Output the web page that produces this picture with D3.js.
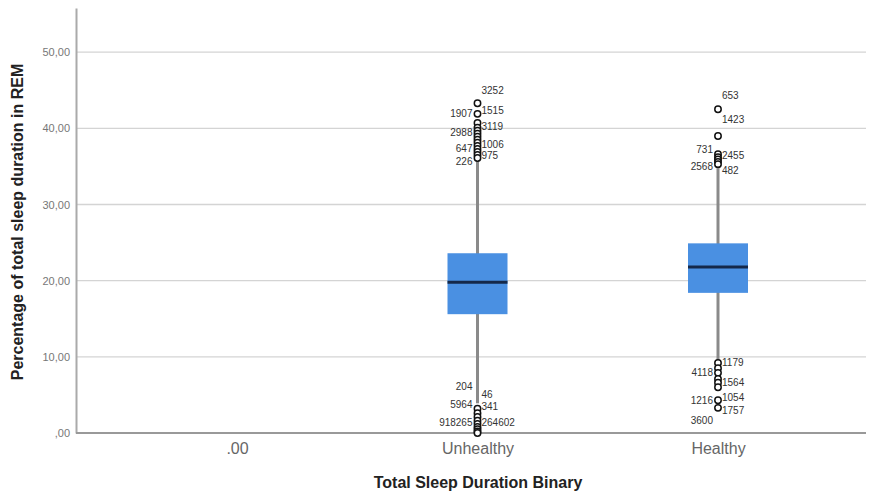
<!DOCTYPE html>
<html>
<head>
<meta charset="utf-8">
<script src="https://cdn.jsdelivr.net/npm/d3@7"></script>
<style>
  body { margin: 0; background: #fff; }
  svg { display: block; font-family: "Liberation Sans", Arial, sans-serif; }
</style>
</head>
<body>
<div id="svg-container"></div>
<script>
// data
const categories = [".00", "Unhealthy", "Healthy"];
const q1 = [null, 15.6, 18.4];
const median = [null, 19.8, 21.8];
const q3 = [null, 23.6, 24.9];
const whiskerLow = [null, 3.9, 9.6];
const whiskerHigh = [null, 35.8, 35.0];

const unhealthyOutliers = [43.3, 41.9, 40.7, 40.1, 39.7, 39.3, 38.9, 38.5, 38.1, 37.7, 37.3, 36.9, 36.5, 36.1,
  3.2, 2.6, 2.1, 1.6, 1.2, 0.8, 0.5, 0.2, 0.0];
const healthyOutliers = [42.5, 39.0, 36.6, 36.2, 35.9, 35.6, 35.3,
  9.2, 8.5, 7.9, 7.1, 6.6, 6.0, 4.3, 3.3];

// case labels: text, value where the label sits, side of the whisker
const unhealthyLabels = [
  ["3252", 45.0, "r"], ["1907", 41.9, "l"], ["1515", 42.4, "r"], ["3119", 40.3, "r"],
  ["2988", 39.5, "l"], ["1006", 37.9, "r"], ["647", 37.4, "l"], ["975", 36.4, "r"],
  ["226", 35.6, "l"], ["204", 6.1, "l"], ["46", 5.0, "r"], ["5964", 3.7, "l"],
  ["341", 3.5, "r"], ["918265", 1.4, "l"], ["264602", 1.4, "r"]
];
const healthyLabels = [
  ["653", 44.3, "r"], ["1423", 41.2, "r"], ["731", 37.2, "l"], ["2455", 36.4, "r"],
  ["2568", 35.0, "l"], ["482", 34.4, "r"], ["1179", 9.2, "r"], ["4118", 7.9, "l"],
  ["1564", 6.6, "r"], ["1054", 4.7, "r"], ["1216", 4.3, "l"], ["1757", 3.0, "r"],
  ["3600", 1.7, "l"]
];

const yTicks = [0, 10, 20, 30, 40, 50];

////////////////////////////////////////////////////////////////////
const width = 869, height = 495;
const margin = { top: 8, right: 3, bottom: 62, left: 76 };

const svg = d3.select("#svg-container").append("svg")
  .attr("width", width).attr("height", height);

const xScale = d3.scalePoint().domain(categories).range([237, 718]);
const yScale = d3.scaleLinear().domain([0, 55.8]).range([height - margin.bottom, margin.top]);

const fmt = (d) => d3.format(".2f")(d).replace(/^0/, "").replace(".", ",");

// grid
svg.append("g")
  .selectAll("line")
  .data(yTicks.slice(1))
  .join("line")
  .attr("x1", margin.left).attr("x2", width - margin.right)
  .attr("y1", (d) => yScale(d)).attr("y2", (d) => yScale(d))
  .attr("stroke", "#d4d4d4").attr("stroke-width", 1.3);

// y axis
const yAxis = d3.axisLeft(yScale).tickValues(yTicks).tickFormat(fmt).tickSize(0).tickPadding(6);
const gy = svg.append("g").attr("transform", `translate(${margin.left},0)`).call(yAxis);
gy.select(".domain").attr("stroke", "#aaa").attr("stroke-width", 2);
gy.selectAll("text").attr("fill", "#777").attr("font-size", 11);

// x axis
const xAxis = d3.axisBottom(xScale).tickSize(0).tickPadding(10);
const gx = svg.append("g").attr("transform", `translate(0,${yScale(0)})`).call(xAxis);
gx.select(".domain").attr("d", `M${margin.left},0H${width - margin.right}`)
  .attr("stroke", "#999").attr("stroke-width", 2);
gx.selectAll("text").attr("fill", "#666").attr("font-size", 16);

// titles
svg.append("text")
  .attr("x", 478).attr("y", 488)
  .attr("text-anchor", "middle")
  .attr("font-size", 16).attr("font-weight", "bold").attr("fill", "#222")
  .text("Total Sleep Duration Binary");

svg.append("text")
  .attr("transform", `translate(23,222) rotate(-90)`)
  .attr("text-anchor", "middle")
  .attr("font-size", 16).attr("font-weight", "bold").attr("fill", "#222")
  .text("Percentage of total sleep duration in REM");

// boxes
const boxes = categories.map((c, i) => ({
  cat: c, q1: q1[i], med: median[i], q3: q3[i], lo: whiskerLow[i], hi: whiskerHigh[i]
})).filter((d) => d.q1 !== null);

const boxW = 60;
const g = svg.append("g");

g.selectAll(".whisker")
  .data(boxes)
  .join("line")
  .attr("x1", (d) => xScale(d.cat)).attr("x2", (d) => xScale(d.cat))
  .attr("y1", (d) => yScale(d.lo)).attr("y2", (d) => yScale(d.hi))
  .attr("stroke", "#8a8a8a").attr("stroke-width", 3);

g.selectAll(".box")
  .data(boxes)
  .join("rect")
  .attr("x", (d) => xScale(d.cat) - boxW / 2)
  .attr("width", boxW)
  .attr("y", (d) => yScale(d.q3))
  .attr("height", (d) => yScale(d.q1) - yScale(d.q3))
  .attr("fill", "#4a90e2");

g.selectAll(".median")
  .data(boxes)
  .join("line")
  .attr("x1", (d) => xScale(d.cat) - boxW / 2).attr("x2", (d) => xScale(d.cat) + boxW / 2)
  .attr("y1", (d) => yScale(d.med)).attr("y2", (d) => yScale(d.med))
  .attr("stroke", "#14284a").attr("stroke-width", 3);

// outliers
const outliers = [
  ...unhealthyOutliers.map((v) => ({ cat: "Unhealthy", v })),
  ...healthyOutliers.map((v) => ({ cat: "Healthy", v }))
];

g.selectAll(".outlier")
  .data(outliers)
  .join("circle")
  .attr("cx", (d) => xScale(d.cat))
  .attr("cy", (d) => yScale(d.v))
  .attr("r", 3.2)
  .attr("fill", "#fff")
  .attr("stroke", "#111")
  .attr("stroke-width", 1.5);

// case labels
const labels = [
  ...unhealthyLabels.map((d) => ({ cat: "Unhealthy", text: d[0], v: d[1], side: d[2] })),
  ...healthyLabels.map((d) => ({ cat: "Healthy", text: d[0], v: d[1], side: d[2] }))
];

g.selectAll(".lbl")
  .data(labels)
  .join("text")
  .attr("x", (d) => xScale(d.cat) + (d.side === "r" ? 4 : -5))
  .attr("y", (d) => yScale(d.v))
  .attr("dy", "0.35em")
  .attr("text-anchor", (d) => (d.side === "r" ? "start" : "end"))
  .attr("font-size", 10)
  .attr("fill", "#333")
  .text((d) => d.text);
</script>
</body>
</html>
